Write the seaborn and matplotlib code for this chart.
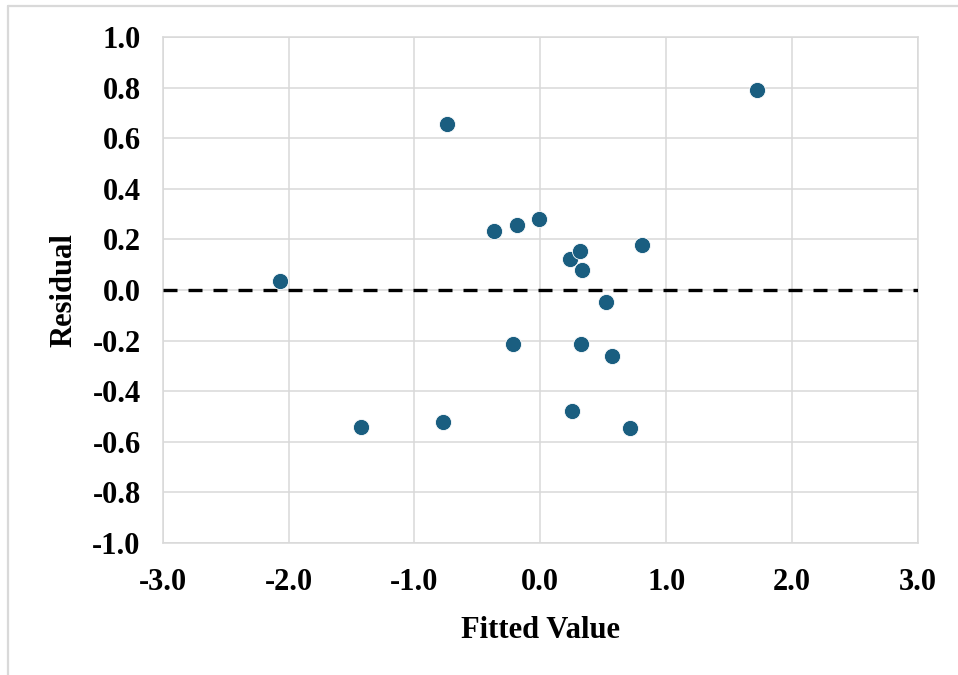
import matplotlib
matplotlib.use("Agg")
import matplotlib.pyplot as plt
from matplotlib.lines import Line2D
import seaborn as sns
import pandas as pd

# Fitted values and residuals of the regression model
fitted = [-2.068, -0.740, 1.721, -0.366, -0.185, -0.008, 0.239, 0.313, 0.334,
          0.806, 0.519, -0.215, 0.324, 0.570, 0.249, -0.774, -1.424, 0.714]
residual = [0.036, 0.655, 0.790, 0.235, 0.258, 0.282, 0.123, 0.156, 0.079,
            0.176, -0.049, -0.212, -0.212, -0.262, -0.480, -0.520, -0.540, -0.546]

x_ticks = [-3.0, -2.0, -1.0, 0.0, 1.0, 2.0, 3.0]
y_ticks = [-1.0, -0.8, -0.6, -0.4, -0.2, 0.0, 0.2, 0.4, 0.6, 0.8, 1.0]

df = pd.DataFrame({"Fitted Value": fitted, "Residual": residual})

sns.set_theme(style="white", rc={"text.color": "black",
                                 "axes.labelcolor": "black",
                                 "xtick.color": "black",
                                 "ytick.color": "black"})
plt.rcParams["font.family"] = ["Liberation Serif", "DejaVu Serif"]
plt.rcParams["font.weight"] = "bold"

grid_color = "#d9d9d9"
point_color = "#1a5e80"

fig = plt.figure(figsize=(9.58, 6.75), dpi=100)
ax = fig.add_axes([0.170, 0.1956, 0.788, 0.7496])

sns.scatterplot(data=df, x="Fitted Value", y="Residual", ax=ax,
                color=point_color, s=135, edgecolor="white", linewidth=0.6,
                zorder=4)

ax.axhline(0.0, color="black", linewidth=2.4, linestyle=(0, (4.2, 3.3)),
           zorder=3)

ax.set_xlim(-3.0, 3.0)
ax.set_ylim(-1.0, 1.0)
ax.set_xticks(x_ticks)
ax.set_yticks(y_ticks)
ax.set_xticklabels([f"{v:.1f}" for v in x_ticks])
ax.set_yticklabels([f"{v:.1f}" for v in y_ticks])
ax.grid(True, color=grid_color, linewidth=1.1, zorder=0)
ax.set_axisbelow(True)
for sp in ax.spines.values():
    sp.set_color(grid_color)
    sp.set_linewidth(1.1)

ax.tick_params(axis="both", length=0, labelsize=22, labelcolor="black")
ax.tick_params(axis="x", pad=18)
ax.tick_params(axis="y", pad=16)
for lab in ax.get_xticklabels() + ax.get_yticklabels():
    lab.set_fontweight("bold")

ax.set_xlabel("Fitted Value", fontsize=22, fontweight="bold", labelpad=14,
              color="black")
ax.set_ylabel("Residual", fontsize=22, fontweight="bold", labelpad=10,
              color="black")

# Light frame around the chart area (top and left edges)
fig.add_artist(Line2D([8 / 958, 1.0], [1 - 6 / 675, 1 - 6 / 675],
                      transform=fig.transFigure, color=grid_color, linewidth=1.6))
fig.add_artist(Line2D([8 / 958, 8 / 958], [0.0, 1 - 6 / 675],
                      transform=fig.transFigure, color=grid_color, linewidth=1.6))

fig.savefig("out.png", dpi=100)
